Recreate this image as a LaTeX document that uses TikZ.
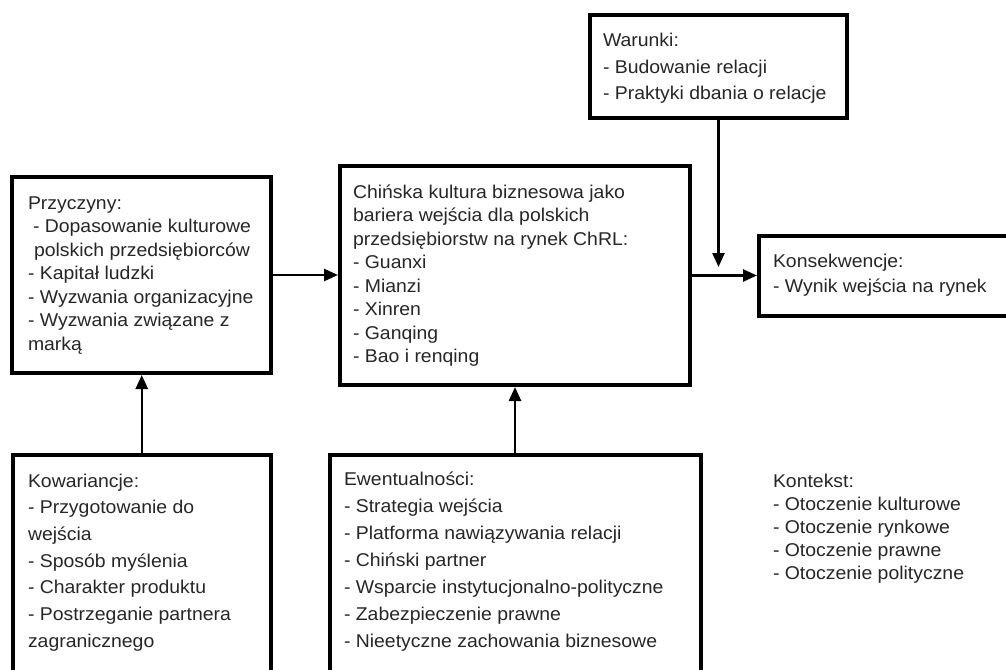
\documentclass[tikz,border=0pt]{standalone}
\usepackage{fontspec}
\setmainfont[FakeStretch=1.05]{Liberation Sans}
\usetikzlibrary{arrows.meta,fit}

% a left-aligned block of lines whose first baseline is the block's baseline
\newcommand{\txtblock}[2]{{\fontsize{18.5pt}{#1}\selectfont\begin{tabular}[t]{@{}l@{}}#2\end{tabular}}}

\begin{document}
\begin{tikzpicture}[x=1pt,y=-1pt,
  frame/.style={draw=black, line width=4pt, inner sep=0pt, outer sep=2pt},
  label/.style={anchor=base west, inner sep=0pt, outer sep=0pt, text=black!85},
  link/.style={line width=2.5pt, -{Triangle[length=14pt,width=12pt]}}]
\useasboundingbox (0,0) rectangle (1006,669);
\begin{scope}
\clip (0,0) rectangle (1006,669);

% boxes
\node[frame, fit={(12,177) (271,373)}] (prz) {};
\node[frame, fit={(340,166) (690,385)}] (ctr) {};
\node[frame, fit={(590,15.5) (847,118)}] (war) {};
\node[frame, fit={(759,235.5) (1014,315.5)}] (kon) {};
\node[frame, fit={(12.5,454.5) (271,690)}] (kow) {};
\node[frame, fit={(329.5,455) (700.5,690)}] (ewe) {};

% texts
\node[label] (przt) at (28,209) {\txtblock{23.5pt}{Przyczyny:\\
  \hspace{5pt}- Dopasowanie kulturowe\\
  \hspace{6pt}polskich przedsiębiorców\\
  - Kapitał ludzki\\
  - Wyzwania organizacyjne\\
  - Wyzwania związane z\\
  marką}};
\node[label] (ctrt) at (353,198) {\txtblock{23.5pt}{Chińska kultura biznesowa jako\\
  bariera wejścia dla polskich\\
  przedsiębiorstw na rynek ChRL:\\
  - Guanxi\\
  - Mianzi\\
  - Xinren\\
  - Ganqing\\
  - Bao i renqing}};
\node[label] (wart) at (603,47) {\txtblock{26.3pt}{Warunki:\\
  - Budowanie relacji\\
  - Praktyki dbania o relacje}};
\node[label] (kont) at (773,267) {\txtblock{25pt}{Konsekwencje:\\
  - Wynik wejścia na rynek}};
\node[label] (kowt) at (28,487) {\txtblock{26.7pt}{Kowariancje:\\
  - Przygotowanie do\\
  wejścia\\
  - Sposób myślenia\\
  - Charakter produktu\\
  - Postrzeganie partnera\\
  zagranicznego}};
\node[label] (ewet) at (344,485) {\txtblock{27pt}{Ewentualności:\\
  - Strategia wejścia\\
  - Platforma nawiązywania relacji\\
  - Chiński partner\\
  - Wsparcie instytucjonalno-polityczne\\
  - Zabezpieczenie prawne\\
  - Nieetyczne zachowania biznesowe}};
\node[label] (ctx) at (773,487.5) {\txtblock{23pt}{Kontekst:\\
  - Otoczenie kulturowe\\
  - Otoczenie rynkowe\\
  - Otoczenie prawne\\
  - Otoczenie polityczne}};

% connectors
\coordinate (join) at ([yshift=8.5pt]ctr.east -| war.south);
\draw[link] (prz.east) -- (prz.east -| ctr.west);
\draw[link] (ctr.east) -- (ctr.east -| kon.west);
\draw[link] (war.south) -- (join);
\draw[link] (kow.north) -- (kow.north |- prz.south);
\draw[link] (ewe.north) -- (ewe.north |- ctr.south);
\end{scope}
\end{tikzpicture}
\end{document}
